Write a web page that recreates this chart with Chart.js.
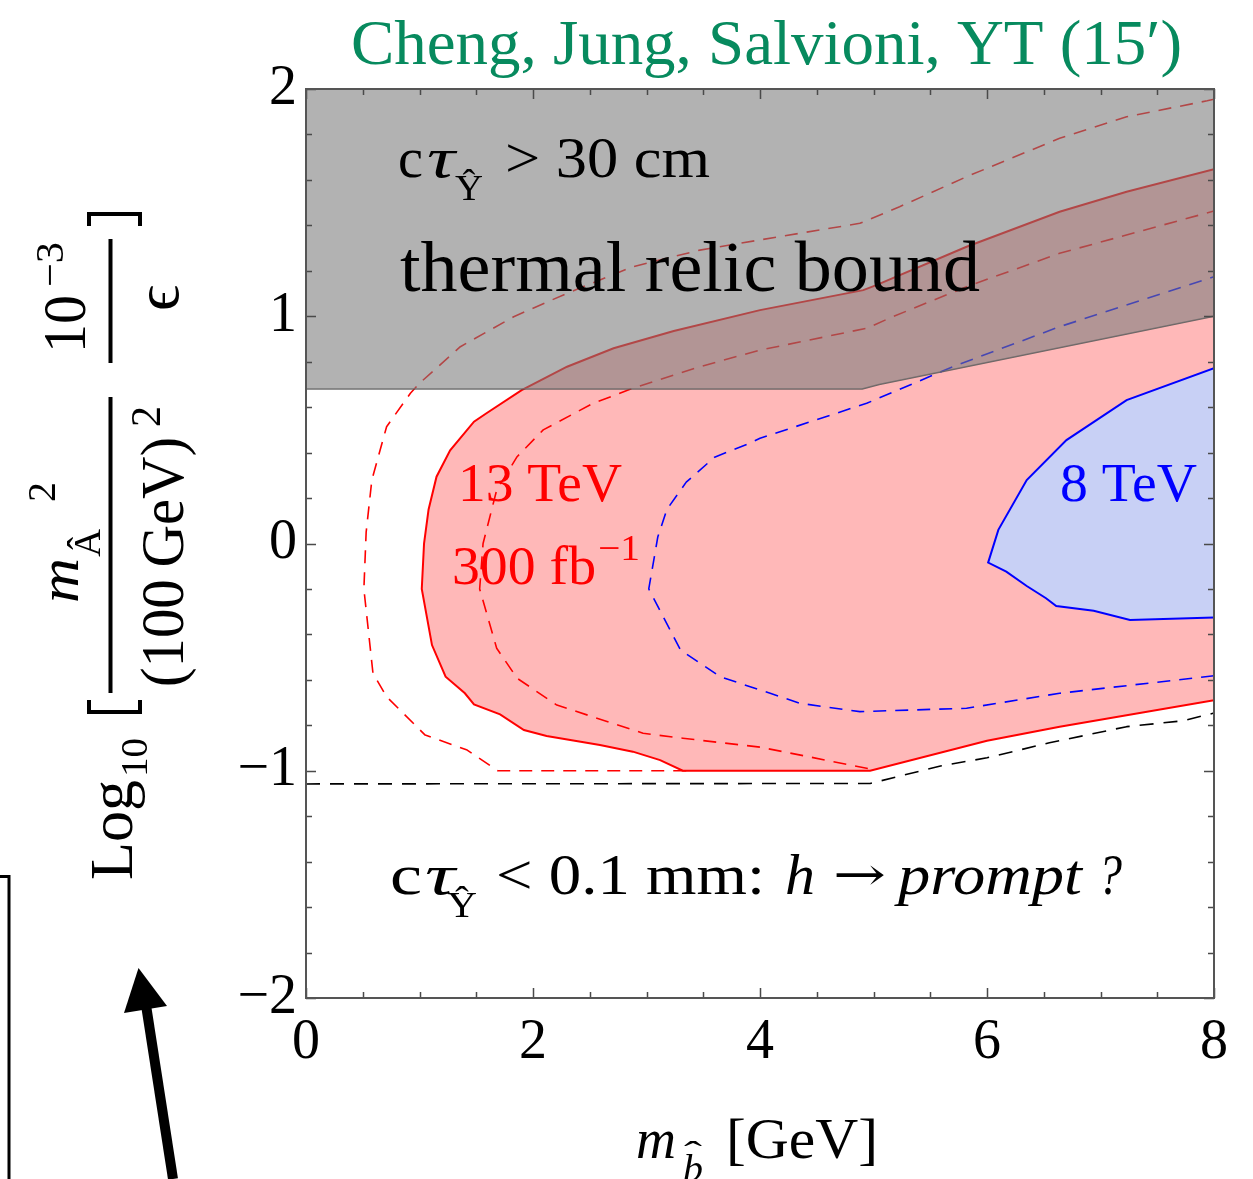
<!DOCTYPE html>
<html><head><meta charset="utf-8">
<script src="https://cdn.jsdelivr.net/npm/chart.js@4.4.1/dist/chart.umd.min.js"></script>
<style>html,body{margin:0;padding:0;background:#fff;overflow:hidden}canvas{display:block}</style>
</head><body>
<canvas id="c" width="1253" height="1179"></canvas>
<script>
// ---------------- data ----------------
const xTickValues = [0, 2, 4, 6, 8];
const yTickValues = [-2, -1, 0, 1, 2];

// 13 TeV, 300 fb^-1 reach (solid red region)
const redRegionX = [8.00, 6.64, 6.00, 4.97, 3.32, 3.12, 2.88, 2.59, 2.12, 1.92, 1.71, 1.48, 1.40, 1.23, 1.11, 1.02, 1.04, 1.08, 1.15, 1.27, 1.48, 1.59, 1.90, 2.30, 2.71, 3.24, 4.00, 4.91, 5.03, 5.82, 6.64, 7.23, 8.00];
const redRegionY = [-0.69, -0.806, -0.868, -1.0, -1.0, -0.953, -0.916, -0.887, -0.847, -0.821, -0.752, -0.708, -0.659, -0.586, -0.447, -0.20, 0.0, 0.15, 0.294, 0.41, 0.536, 0.573, 0.675, 0.778, 0.859, 0.935, 1.027, 1.115, 1.138, 1.306, 1.46, 1.548, 1.647];
// red dashed contours
const redDashOuterX = [3.35, 1.69, 1.42, 1.05, 0.71, 0.59, 0.51, 0.53, 0.58, 0.71, 0.92, 1.00, 1.36, 1.83, 2.30, 2.88, 3.47, 4.00, 4.88, 5.23, 5.82, 6.64, 7.23, 7.94, 8.00];
const redDashOuterY = [-1.0, -1.0, -0.909, -0.843, -0.674, -0.571, -0.20, 0.05, 0.279, 0.514, 0.661, 0.705, 0.866, 0.998, 1.101, 1.218, 1.291, 1.336, 1.409, 1.482, 1.614, 1.783, 1.878, 1.948, 1.955];
const redDashInnerX = [4.95, 4.00, 3.32, 2.97, 2.21, 1.86, 1.68, 1.53, 1.56, 1.68, 1.86, 2.09, 2.53, 2.88, 3.47, 4.00, 4.94, 5.17, 5.82, 6.64, 8.00];
const redDashInnerY = [-0.99, -0.896, -0.857, -0.835, -0.711, -0.593, -0.461, -0.20, 0.0, 0.235, 0.382, 0.50, 0.617, 0.683, 0.778, 0.851, 0.947, 0.998, 1.13, 1.277, 1.463];
// 8 TeV reach (solid blue region) and blue dashed contour
const blueRegionX = [8.00, 7.23, 6.70, 6.35, 6.10, 6.01, 6.17, 6.35, 6.52, 6.61, 6.94, 7.26, 8.00];
const blueRegionY = [0.771, 0.631, 0.455, 0.279, 0.06, -0.084, -0.124, -0.187, -0.241, -0.275, -0.296, -0.337, -0.326];
const blueDashX = [8.00, 6.64, 5.82, 4.88, 4.35, 4.09, 4.00, 3.65, 3.30, 3.02, 3.10, 3.18, 3.35, 3.60, 3.91, 4.00, 4.94, 5.70, 6.64, 8.00];
const blueDashY = [-0.582, -0.659, -0.725, -0.74, -0.703, -0.659, -0.645, -0.586, -0.469, -0.20, 0.03, 0.15, 0.27, 0.38, 0.441, 0.463, 0.617, 0.778, 0.954, 1.174];
// prompt-decay boundary (black dashed)
const blackDashX = [0, 4.97, 5.59, 6.00, 6.55, 7.23, 7.73, 8.00];
const blackDashY = [-1.058, -1.056, -0.979, -0.943, -0.877, -0.806, -0.78, -0.746];
// thermal relic bound / ctau > 30 cm (gray region)
const grayRegionX = [0, 8, 8, 5.05, 4.90, 0];
const grayRegionY = [2, 2, 1.0, 0.70, 0.68, 0.68];
const grayEdgeX = [0, 4.90, 5.05, 8];
const grayEdgeY = [0.68, 0.68, 0.70, 1.0];

// ---------------- helpers ----------------
const zip = (xs, ys) => xs.map((x, i) => ({ x: x, y: ys[i] }));
const FAM = '"Liberation Serif","Times New Roman",serif';

function txt(ctx, s, x0, x1, base, size, opt) {
  opt = opt || {};
  ctx.save();
  ctx.font = (opt.italic ? 'italic ' : '') + size + 'px ' + (opt.family || FAM);
  ctx.fillStyle = opt.color || '#000';
  ctx.textBaseline = 'alphabetic';
  ctx.textAlign = 'left';
  const w = ctx.measureText(s).width;
  const k = (x1 != null) ? (x1 - x0) / w : 1;
  ctx.translate(x0, base);
  ctx.scale(k, 1);
  ctx.fillText(s, 0, 0);
  ctx.restore();
}

const frameTicks = {
  id: 'frameTicks',
  afterDatasetsDraw(chart) {
    const { ctx, chartArea: a, scales: { x, y } } = chart;
    ctx.save();
    ctx.strokeStyle = '#4a4a4a';
    ctx.lineWidth = 1.5;
    ctx.beginPath();
    for (let i = 0; i <= 16; i++) {
      const v = i * 0.5;
      const px = Math.round(x.getPixelForValue(v)) + 0.5;
      const L = xTickValues.includes(v) ? 10 : 6;
      ctx.moveTo(px, a.bottom); ctx.lineTo(px, a.bottom - L);
      ctx.moveTo(px, a.top); ctx.lineTo(px, a.top + L);
    }
    for (let i = 0; i <= 20; i++) {
      const v = -2 + i * 0.2;
      const py = Math.round(y.getPixelForValue(v)) + 0.5;
      const L = (i % 5 === 0) ? 10 : 6;
      ctx.moveTo(a.left, py); ctx.lineTo(a.left + L, py);
      ctx.moveTo(a.right, py); ctx.lineTo(a.right - L, py);
    }
    ctx.stroke();
    ctx.lineWidth = 2;
    ctx.strokeStyle = '#555';
    ctx.strokeRect(a.left, a.top, a.right - a.left, a.bottom - a.top);
    ctx.restore();
  }
};

const labels = {
  id: 'labels',
  afterDraw(chart) {
    const ctx = chart.ctx;
    // title
    txt(ctx, 'Cheng, Jung, Salvioni, YT (15\u2032)', 351, 1182, 64, 64, { color: '#078a5e' });
    // top-left region text
    txt(ctx, 'c', 398, 423, 177, 58);
    txt(ctx, '\u03C4', 427, 455, 177, 58, { italic: true });
    txt(ctx, '\u0176', 455, 483, 200, 36);
    txt(ctx, '> 30 cm', 505, 710, 177, 58);
    txt(ctx, 'thermal relic bound', 400, 980, 291, 72);
    // 13 TeV labels
    txt(ctx, '13 TeV', 458, 622, 501, 54, { color: '#ff0000' });
    txt(ctx, '300 fb', 452, 596, 584, 54, { color: '#ff0000' });
    txt(ctx, '\u22121', 598, 640, 560, 36, { color: '#ff0000' });
    txt(ctx, '8 TeV', 1060, 1197, 501, 54, { color: '#0000ff' });
    // bottom text
    txt(ctx, 'c', 390, 422, 894, 58);
    txt(ctx, '\u03C4', 425, 455, 894, 58, { italic: true });
    txt(ctx, '\u0176', 447, 477, 917, 36);
    txt(ctx, '< 0.1 mm:', 496, 765, 894, 58);
    txt(ctx, 'h', 785, 815, 894, 58, { italic: true });
    txt(ctx, '\u2192', 833, 886, 890, 46, { family: '"DejaVu Serif",serif' });
    txt(ctx, 'prompt', 898, 1082, 894, 58, { italic: true });
    txt(ctx, '?', 1098, 1122, 894, 58, { italic: true });
    // x-axis title
    txt(ctx, 'm', 636, 676, 1158, 58, { italic: true });
    txt(ctx, 'b', 683, 703, 1181, 38, { italic: true });
    txt(ctx, '\u02C6', 684, 702, 1165, 34);
    txt(ctx, '[GeV]', 726, 878, 1158, 58);

    // y-axis title (rotated)
    ctx.save();
    ctx.translate(0, 885);
    ctx.rotate(-Math.PI / 2);
    txt(ctx, 'Log', 5, 105, 132, 62);
    txt(ctx, '10', 108, 147, 147, 38);
    ctx.strokeStyle = '#000';
    ctx.lineWidth = 4;
    ctx.beginPath();
    ctx.moveTo(185, 89); ctx.lineTo(173, 89); ctx.lineTo(173, 140); ctx.lineTo(185, 140);
    ctx.moveTo(659, 89); ctx.lineTo(671, 89); ctx.lineTo(671, 140); ctx.lineTo(659, 140);
    ctx.stroke();
    ctx.beginPath();
    ctx.moveTo(192, 110.5); ctx.lineTo(488, 110.5);
    ctx.moveTo(522, 110.5); ctx.lineTo(646, 110.5);
    ctx.stroke();
    txt(ctx, 'm', 282, 327, 78, 58, { italic: true });
    txt(ctx, '\u00C2', 328, 356, 100, 38);
    txt(ctx, '2', 383, null, 55, 40);
    txt(ctx, '(100\u2009GeV)', 198, 448, 183, 62);
    txt(ctx, '2', 458, null, 160, 42);
    txt(ctx, '10', 532, 590, 85, 62);
    txt(ctx, '\u22123', 598, 643, 63, 40);
    txt(ctx, '\u03F5', 574, 600, 178, 62);
    ctx.restore();

    // slide decorations: box edge and arrow
    ctx.save();
    ctx.strokeStyle = '#000';
    ctx.lineWidth = 3;
    ctx.beginPath();
    ctx.moveTo(0, 876.5); ctx.lineTo(9, 876.5); ctx.lineTo(9, 1179);
    ctx.stroke();
    ctx.lineWidth = 10;
    ctx.beginPath();
    ctx.moveTo(146, 1005); ctx.lineTo(173, 1179);
    ctx.stroke();
    ctx.fillStyle = '#000';
    ctx.beginPath();
    ctx.moveTo(138.5, 968); ctx.lineTo(124, 1013); ctx.lineTo(167, 1006); ctx.closePath();
    ctx.fill();
    ctx.restore();
  }
};

const lineDs = (data, color, width, dash, order) => ({
  data: data, borderColor: color, borderWidth: width, borderDash: dash || [],
  pointRadius: 0, fill: false, tension: 0, order: order, borderJoinStyle: 'round'
});

const datasets = [
  { data: zip(grayRegionX, grayRegionY), borderWidth: 0, borderColor: 'rgba(0,0,0,0)',
    backgroundColor: 'rgba(123,123,123,0.58)', fill: 'shape', pointRadius: 0, tension: 0, order: 0 },
  lineDs(zip(grayEdgeX, grayEdgeY), 'rgba(85,85,85,0.85)', 1.5, null, 1),
  lineDs(zip(blackDashX, blackDashY), '#000000', 1.6, [14, 10], 2),
  lineDs(zip(blueDashX, blueDashY), '#0000ff', 1.6, [13, 9], 3),
  lineDs(zip(redDashInnerX, redDashInnerY), '#ff0000', 1.6, [13, 9], 4),
  lineDs(zip(redDashOuterX, redDashOuterY), '#ff0000', 1.6, [13, 9], 5),
  { data: zip(blueRegionX, blueRegionY), borderColor: '#0000ff', borderWidth: 2,
    backgroundColor: '#c8d0f5', fill: 'shape', pointRadius: 0, tension: 0, order: 6 },
  { data: zip(redRegionX, redRegionY), borderColor: '#ff0000', borderWidth: 2,
    backgroundColor: 'rgba(255,0,0,0.28)', fill: 'shape', pointRadius: 0, tension: 0, order: 7 }
];

const tickFont = { family: FAM, size: 56 };
new Chart(document.getElementById('c'), {
  type: 'line',
  data: { datasets: datasets },
  options: {
    responsive: false,
    animation: false,
    devicePixelRatio: 1,
    events: [],
    layout: { padding: { top: 89, right: 39, left: 0, bottom: 0 } },
    plugins: { legend: { display: false }, tooltip: { enabled: false } },
    scales: {
      x: {
        type: 'linear', min: 0, max: 8,
        grid: { display: false, drawTicks: false },
        border: { display: false },
        afterBuildTicks: s => { s.ticks = xTickValues.map(v => ({ value: v })); },
        afterFit: s => { s.height = 181; },
        ticks: { font: tickFont, color: '#000', padding: 12, maxRotation: 0, autoSkip: false,
                 callback: v => (v < 0 ? '\u2212' + Math.abs(v) : String(v)) }
      },
      y: {
        type: 'linear', min: -2, max: 2,
        grid: { display: false, drawTicks: false },
        border: { display: false },
        afterBuildTicks: s => { s.ticks = yTickValues.map(v => ({ value: v })); },
        afterFit: s => { s.width = 306; },
        ticks: { font: tickFont, color: '#000', padding: 9, autoSkip: false,
                 callback: v => (v < 0 ? '\u2212' + Math.abs(v) : String(v)) }
      }
    }
  },
  plugins: [frameTicks, labels]
});
</script>
</body></html>
